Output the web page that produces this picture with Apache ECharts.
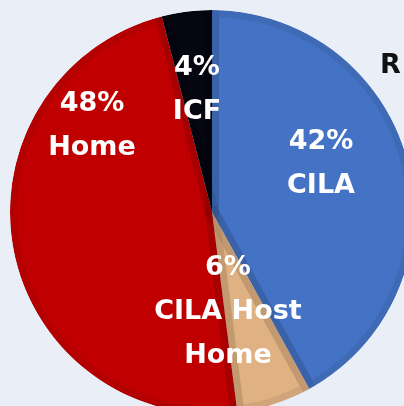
<!DOCTYPE html>
<html><head><meta charset="utf-8">
<script src="https://cdn.jsdelivr.net/npm/echarts@6/dist/echarts.min.js"></script>
<style>html,body{margin:0;padding:0;background:#e9eef7;}#c{width:404px;height:406px;}</style>
</head><body><div id="c"></div>
<script>
const categories = ['CILA', 'CILA Host\nHome', 'Home', 'ICF'];
const values = [42, 6, 48, 4];
const colors = ['#4472c4', '#e0b182', '#c00000', '#05060f'];
const labelPos = [[321, 164], [228, 312], [92, 126], [197, 90]];
const bg = '#e9eef7';

const R = 202;
const chart = echarts.init(document.getElementById('c'), null, {renderer: 'canvas'});
const pieData = (style) => categories.map((c, i) => ({name: c, value: values[i], itemStyle: style(i)}));
chart.setOption({
  backgroundColor: bg,
  animation: false,
  graphic: [{type: 'text', left: 380, top: 52, z: 100, style: {text: 'R', font: 'bold 27px "DejaVu Sans"', fill: '#111'}}],
  series: [{
    type: 'pie', center: [212, 212], radius: [0, R], startAngle: 90, clockwise: true, silent: true,
    data: pieData(i => ({color: colors[i], borderWidth: 0})),
    label: {show: false}, labelLine: {show: false}
  }, {
    type: 'pie', center: [212, 212], radius: [0, R], startAngle: 90, clockwise: true, silent: true,
    data: pieData(i => ({color: 'rgba(0,0,0,0)', borderColor: 'rgba(0,0,0,0.065)', borderWidth: 14})),
    label: {
      show: true, position: 'inside',
      formatter: p => p.value + '%\n' + p.name,
      color: '#fff', fontFamily: 'DejaVu Sans', fontWeight: 'bold', fontSize: 27,
      lineHeight: 44, align: 'center', verticalAlign: 'middle'
    },
    labelLine: {show: false},
    labelLayout: p => ({x: labelPos[p.dataIndex][0], y: labelPos[p.dataIndex][1], align: 'center', verticalAlign: 'middle'})
  }, {
    type: 'pie', center: [212, 212], radius: [R, R + 40], silent: true,
    data: [{value: 1, itemStyle: {color: bg}}],
    label: {show: false}, labelLine: {show: false}
  }]
});
</script></body></html>
